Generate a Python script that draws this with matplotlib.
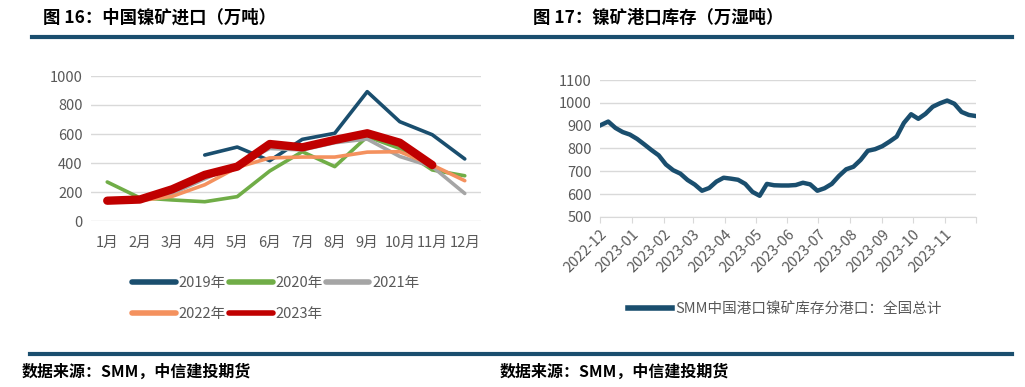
import numpy as np
import pandas as pd
import matplotlib
matplotlib.use("Agg")
import matplotlib.pyplot as plt
from matplotlib.lines import Line2D

plt.rcParams['font.family'] = ['Noto Sans CJK SC', 'DejaVu Sans']

# figure 16: monthly nickel ore imports (10k t)
months = ['1月', '2月', '3月', '4月', '5月', '6月', '7月', '8月', '9月', '10月', '11月', '12月']
imp_2019 = [np.nan, np.nan, np.nan, 455, 510, 416, 563, 605, 892, 685, 595, 428]
imp_2020 = [269, 160, 145, 133, 168, 345, 478, 375, 582, 500, 352, 312]
imp_2021 = [140, 150, 190, 290, 390, 500, 490, 540, 565, 445, 375, 190]
imp_2022 = [140, 140, 170, 250, 370, 435, 441, 441, 475, 478, 386, 278]
imp_2023 = [140, 148, 219, 318, 375, 531, 508, 559, 605, 540, 386, np.nan]

# figure 17: weekly port inventory (10k wet t)
inv_start = '2022-12-02'
inventory = [903, 918, 890, 872, 861, 842, 818, 793, 770, 730, 705, 690, 662, 642,
             615, 627, 655, 672, 668, 663, 645, 610, 593, 645, 639, 638, 638, 640,
             650, 643, 615, 626, 645, 680, 709, 720, 750, 790, 797, 810, 830, 852,
             912, 950, 930, 952, 983, 998, 1010, 996, 960, 947, 942]
inv_dates = pd.date_range(inv_start, periods=len(inventory), freq='7D')

navy = '#1a4e6e'
grid_c = '#d9d9d9'
txt_c = '#595959'

fig = plt.figure(figsize=(10.25, 3.87), dpi=100)

# header / footer decorations
fig.text(43 / 1025, 1 - 18 / 387, '图 16：中国镍矿进口（万吨）', fontsize=12.5,
         fontweight='bold', va='center', ha='left')
fig.text(533 / 1025, 1 - 18 / 387, '图 17：镍矿港口库存（万湿吨）', fontsize=12.5,
         fontweight='bold', va='center', ha='left')
fig.add_artist(Line2D([32 / 1025, 1012 / 1025], [1 - 37 / 387] * 2, color=navy, lw=3))
fig.add_artist(Line2D([30 / 1025, 1012 / 1025], [1 - 354 / 387] * 2, color=navy, lw=3))
for xs in (22, 500):
    fig.text(xs / 1025, 1 - 372 / 387, '数据来源：SMM，中信建投期货', fontsize=11.5,
             fontweight='bold', style='italic', va='center', ha='left')

# ---- left chart
ax1 = fig.add_axes([91 / 1025, 1 - 221 / 387, 390 / 1025, 145 / 387])
x = np.arange(len(months))
series = [
    ('2019年', imp_2019, navy, 2.6),
    ('2020年', imp_2020, '#70ad47', 2.6),
    ('2021年', imp_2021, '#a5a5a5', 2.6),
    ('2022年', imp_2022, '#f4915e', 2.6),
    ('2023年', imp_2023, '#c00000', 6),
]
lines = {}
for name, vals, col, lw in series:
    lines[name], = ax1.plot(x, vals, color=col, lw=lw, label=name, solid_capstyle='round')
ax1.set_xlim(-0.5, 11.5)
ax1.set_ylim(0, 1000)
ax1.set_yticks(range(0, 1001, 200))
ax1.set_xticks(x)
ax1.set_xticklabels(months)
ax1.grid(axis='y', color=grid_c, lw=1)
ax1.set_axisbelow(True)
for s in ax1.spines.values():
    s.set_visible(False)
ax1.tick_params(length=0, labelsize=10.5, colors=txt_c, pad=6)
ax1.tick_params(axis='x', pad=11)
# legend fills column-wise, so reorder to get rows 2019/2020/2021 and 2022/2023
order = ['2019年', '2022年', '2020年', '2023年', '2021年']
leg = ax1.legend([lines[k] for k in order], order, ncol=3, loc='upper left',
                 bbox_to_anchor=(0.09, -0.34), frameon=False,
                 fontsize=10.5, handlelength=3.0, handletextpad=0.2, columnspacing=0.2,
                 labelspacing=1.15, borderaxespad=0)
for t in leg.get_texts():
    t.set_color(txt_c)
for h in leg.get_lines():
    h.set_linewidth(4)

# ---- right chart
ax2 = fig.add_axes([600 / 1025, 1 - 217 / 387, 376 / 1025, 137 / 387])
ax2.plot(inv_dates, inventory, color=navy, lw=3.2, label='SMM中国港口镍矿库存分港口：全国总计')
ax2.set_xlim(pd.Timestamp('2022-12-01'), pd.Timestamp('2023-12-01'))
ax2.set_ylim(500, 1100)
ax2.set_yticks(range(500, 1101, 100))
tick_dates = pd.date_range('2022-12-01', '2023-12-01', freq='MS')
ax2.set_xticks(tick_dates)
ax2.set_xticklabels([d.strftime('%Y-%m') if d < tick_dates[-1] else '' for d in tick_dates],
                    rotation=45, ha='right', rotation_mode='anchor')
ax2.grid(axis='y', color=grid_c, lw=1)
ax2.set_axisbelow(True)
for k in ('top', 'right', 'left'):
    ax2.spines[k].set_visible(False)
ax2.spines['bottom'].set_color(grid_c)
ax2.tick_params(axis='y', length=0, labelsize=10.5, colors=txt_c, pad=6)
ax2.tick_params(axis='x', length=4, color=grid_c, labelsize=10.5, labelcolor=txt_c, pad=3)
leg2 = ax2.legend(loc='upper left', bbox_to_anchor=(0.06, -0.58), frameon=False,
                  fontsize=10.5, handlelength=3.0, handletextpad=0.2, borderaxespad=0)
for t in leg2.get_texts():
    t.set_color(txt_c)
for h in leg2.get_lines():
    h.set_linewidth(4)

fig.savefig('out.png', dpi=100)
